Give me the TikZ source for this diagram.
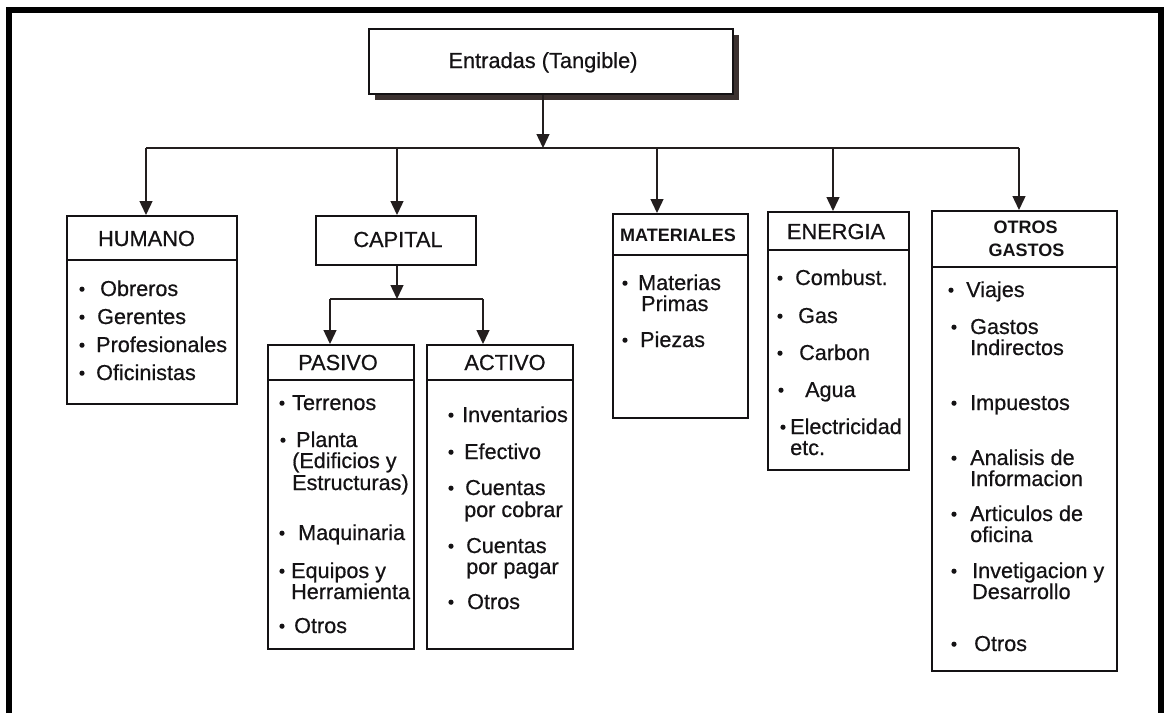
\documentclass[tikz,border=0pt]{standalone}
\usepackage{fontspec}
\setmainfont{Liberation Sans}
% slightly heavier strokes, like the printed lettering
\newfontfamily\inkfont[FakeBold=0.6]{Liberation Sans}
\usetikzlibrary{arrows.meta,shadows}

\definecolor{ink}{RGB}{20,18,20}
\definecolor{linec}{RGB}{35,30,30}
\definecolor{shade}{RGB}{60,50,48}

\tikzset{
  box/.style={draw=ink, line width=1.8pt, fill=white, rectangle, inner sep=0pt,
              anchor=north west},
  topbox/.style={box, drop shadow={shadow xshift=6pt, shadow yshift=-6pt,
              fill=shade, opacity=1}},
  sepline/.style={draw=ink, line width=2pt},
  conn/.style={draw=linec, line width=1.4pt},
  arr/.style={conn, -{Triangle[width=13pt,length=14pt]}},
  item/.style={anchor=base west, inner sep=0pt, text=ink,
               font=\inkfont\fontsize{21.6}{25}\selectfont},
  ttl/.style={anchor=base, inner sep=0pt, text=ink,
              font=\inkfont\fontsize{21.8}{25}\selectfont},
  bttl/.style={anchor=base, inner sep=0pt, text=ink,
               font=\fontsize{18}{21}\bfseries\selectfont},
  dot/.style={circle, fill=ink, inner sep=0pt, minimum size=5.2pt},
  frame/.style={draw=black, line width=6pt}
}

% bulleted entry: name, bullet x, text x, baseline y, text
\newcommand\boxitem[5]{%
  \node[dot] (#1-b) at (#2,#4-6.8) {};
  \node[item] (#1) at (#3,#4) {#5};}
% second line of an entry: name, x, baseline y, text
\newcommand\boxline[4]{\node[item] (#1) at (#2,#3) {#4};}

\begin{document}
\begin{tikzpicture}[x=1pt,y=-1pt]
\useasboundingbox (0,0) rectangle (1165,713);

% outer frame, open at the bottom
\draw[frame] (9,713) -- (9,9.5) -- (1161,9.5) -- (1161,713);

% ---- boxes ----
\node[topbox, minimum width=364pt, minimum height=65pt] (entradas) at (368,28) {};
\node[ttl] (entradas-t) at (543,68) {Entradas (Tangible)};

\node[box, minimum width=170pt, minimum height=188pt] (humano) at (66,215) {};
\node[box, minimum width=160pt, minimum height=49pt] (capital) at (315,215) {};
\node[box, minimum width=146pt, minimum height=304pt] (pasivo) at (267,344) {};
\node[box, minimum width=146pt, minimum height=304pt] (activo) at (426,344) {};
\node[box, minimum width=135pt, minimum height=204pt] (materiales) at (612,213) {};
\node[box, minimum width=141pt, minimum height=258pt] (energia) at (767,211) {};
\node[box, minimum width=185pt, minimum height=460pt] (otros) at (931,210) {};

% header separators
\draw[sepline] ([yshift=-45pt]humano.north west) -- ([yshift=-45pt]humano.north east);
\draw[sepline] ([yshift=-36pt]pasivo.north west) -- ([yshift=-36pt]pasivo.north east);
\draw[sepline] ([yshift=-36pt]activo.north west) -- ([yshift=-36pt]activo.north east);
\draw[sepline] ([yshift=-42pt]materiales.north west) -- ([yshift=-42pt]materiales.north east);
\draw[sepline] ([yshift=-39pt]energia.north west) -- ([yshift=-39pt]energia.north east);
\draw[sepline] ([yshift=-57pt]otros.north west) -- ([yshift=-57pt]otros.north east);

% ---- connectors ----
\coordinate (bus) at (543,148);
\coordinate (bL) at (146,148);
\coordinate (bR) at (1019,148);
\coordinate (dCap) at (397,148);
\coordinate (dMat) at (657,148);
\coordinate (dEne) at (833,148);
\draw[arr] (entradas.south -| bus) -- (bus);
\draw[conn] (bL) -- (bR);
\draw[arr] (bL) -- (bL |- humano.north);
\draw[arr] (dCap) -- (dCap |- capital.north);
\draw[arr] (dMat) -- (dMat |- materiales.north);
\draw[arr] (dEne) -- (dEne |- energia.north);
\draw[arr] (bR) -- (bR |- otros.north);

\coordinate (cbus) at (397,299);
\coordinate (cL) at (330,299);
\coordinate (cR) at (483,299);
\draw[arr] (capital.south -| cbus) -- (cbus);
\draw[conn] (cL) -- (cR);
\draw[arr] (cL) -- (cL |- pasivo.north);
\draw[arr] (cR) -- (cR |- activo.north);

% ---- titles ----
\node[ttl] (humano-t) at (146.5,246) {HUMANO};
\node[ttl] (capital-t) at (398,247) {CAPITAL};
\node[ttl] (pasivo-t) at (338,370) {PASIVO};
\node[ttl] (activo-t) at (505,370) {ACTIVO};
\node[bttl] (materiales-t) at (678,241.5) {MATERIALES};
\node[ttl] (energia-t) at (836,239) {ENERGIA};
\node[bttl] (otros-t1) at (1025.5,233.5) {OTROS};
\node[bttl] (otros-t2) at (1026.5,256.5) {GASTOS};

% ---- HUMANO ----
\boxitem{h1}{82}{100}{296}{Obreros}
\boxitem{h2}{82}{97}{324}{Gerentes}
\boxitem{h3}{82}{96}{352}{Profesionales}
\boxitem{h4}{82}{96}{380}{Oficinistas}

% ---- PASIVO ----
\boxitem{p1}{282}{292}{410}{Terrenos}
\boxitem{p2}{283}{296}{447}{Planta}
\boxline{p2a}{292}{468}{(Edificios y}
\boxline{p2b}{292}{490}{Estructuras)}
\boxitem{p3}{282}{298}{540}{Maquinaria}
\boxitem{p4}{282}{291}{578}{Equipos y}
\boxline{p4a}{291}{599}{Herramienta}
\boxitem{p5}{282}{294}{633}{Otros}

% ---- ACTIVO ----
\boxitem{a1}{451}{462}{422}{Inventarios}
\boxitem{a2}{451}{464}{459}{Efectivo}
\boxitem{a3}{451}{465}{495}{Cuentas}
\boxline{a3a}{464}{517}{por cobrar}
\boxitem{a4}{451}{466}{553}{Cuentas}
\boxline{a4a}{466}{574}{por pagar}
\boxitem{a5}{451}{467}{609}{Otros}

% ---- MATERIALES ----
\boxitem{m1}{625}{638}{290}{Materias}
\boxline{m1a}{641}{311}{Primas}
\boxitem{m2}{625}{640}{347}{Piezas}

% ---- ENERGIA ----
\boxitem{e1}{780}{795}{285}{Combust.}
\boxitem{e2}{780}{798}{323}{Gas}
\boxitem{e3}{780}{799}{360}{Carbon}
\boxitem{e4}{781}{805}{397}{Agua}
\boxitem{e5}{783}{790}{434}{Electricidad}
\boxline{e5a}{790}{455}{etc.}

% ---- OTROS GASTOS ----
\boxitem{o1}{951}{966}{297}{Viajes}
\boxitem{o2}{954}{970}{334}{Gastos}
\boxline{o2a}{970}{355}{Indirectos}
\boxitem{o3}{954}{970}{410}{Impuestos}
\boxitem{o4}{954}{970}{465}{Analisis de}
\boxline{o4a}{970}{486}{Informacion}
\boxitem{o5}{954}{970}{521}{Articulos de}
\boxline{o5a}{970}{542}{oficina}
\boxitem{o6}{954}{972}{578}{Invetigacion y}
\boxline{o6a}{972}{599}{Desarrollo}
\boxitem{o7}{954}{974}{651}{Otros}

\end{tikzpicture}
\end{document}
